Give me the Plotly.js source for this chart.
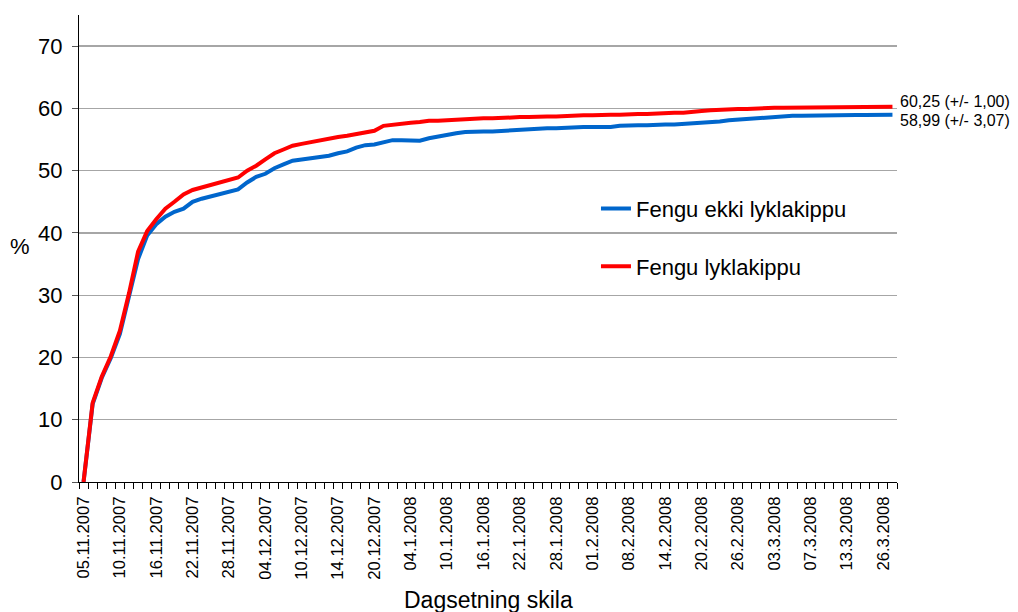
<!DOCTYPE html>
<html>
<head>
<meta charset="utf-8">
<script src="https://cdn.plot.ly/plotly-3.0.1.min.js"></script>
<style>html,body{margin:0;padding:0;background:#fff;}#chart{width:1018px;height:612px;}</style>
</head>
<body>
<div id="chart"></div>
<script>
// Tick labels shown on the category axis (every 4th category)
const tickLabels = ["05.11.2007","10.11.2007","16.11.2007","22.11.2007","28.11.2007","04.12.2007",
  "10.12.2007","14.12.2007","20.12.2007","04.1.2008","10.1.2008","16.1.2008","22.1.2008",
  "28.1.2008","01.2.2008","08.2.2008","14.2.2008","20.2.2008","26.2.2008","03.3.2008",
  "07.3.2008","13.3.2008","26.3.2008"];
const labelStep = 4;

// Series values (%), one per category (90 categories)
const fenguEkki = [0,12.5,16.7,19.9,23.8,29.5,35.8,39.6,41.4,42.6,
  43.4,43.9,45.0,45.5,45.9,46.2,46.6,47.0,48.1,49.0,
  49.5,50.4,51.0,51.6,51.8,52.0,52.2,52.4,52.8,53.1,
  53.7,54.1,54.2,54.6,54.9,54.9,54.9,54.8,55.2,55.5,
  55.8,56.0,56.2,56.3,56.3,56.3,56.4,56.4,56.6,56.7,
  56.8,56.8,56.8,56.9,56.9,57.0,57.0,57.0,57.0,57.2,
  57.3,57.3,57.3,57.4,57.4,57.4,57.5,57.5,57.6,57.7,
  57.9,58.1,58.2,58.3,58.5,58.6,58.7,58.7,58.8,58.8,
  58.85,58.85,58.9,58.9,58.9,58.95,58.95,58.99,58.99,58.99];
const fengu = [0,12.7,16.9,20.2,24.3,30.3,37.0,40.3,42.2,43.9,
  45.0,46.2,46.9,47.3,47.7,48.0,48.4,48.9,50.0,50.8,
  51.8,52.8,53.4,54.0,54.3,54.6,54.8,55.1,55.4,55.6,
  55.9,56.2,56.4,57.2,57.4,57.5,57.7,57.8,58.0,58.0,
  58.1,58.2,58.3,58.3,58.4,58.4,58.5,58.5,58.6,58.6,
  58.7,58.7,58.7,58.8,58.8,58.9,58.9,59.0,59.0,59.0,
  59.1,59.1,59.1,59.2,59.2,59.3,59.3,59.5,59.6,59.7,
  59.8,59.8,59.9,59.9,60.0,60.0,60.1,60.1,60.1,60.15,
  60.15,60.2,60.2,60.2,60.2,60.25,60.25,60.25,60.25,60.25];

const seriesNames = ["Fengu ekki lyklakippu","Fengu lyklakippu"];
const endLabels = ["60,25 (+/- 1,00)","58,99 (+/- 3,07)"];

const n = fengu.length;
const xIdx = Array.from({length:n},(_,i)=>i);
const tickVals = tickLabels.map((_,k)=>k*labelStep);

const FONT = "Liberation Sans, Arial, sans-serif";

const traces = [
  {x:xIdx, y:fenguEkki, type:"scatter", mode:"lines", name:seriesNames[0], legendgroup:"a",
   line:{color:"#0066CC", width:4}},
  {x:xIdx, y:fengu, type:"scatter", mode:"lines", name:seriesNames[1], legendgroup:"b",
   line:{color:"#FF0000", width:4}}
];

const layout = {
  width:1018, height:612,
  margin:{l:79, r:121, t:15, b:130},
  paper_bgcolor:"#fff", plot_bgcolor:"#fff",
  font:{family:FONT, color:"#000"},
  showlegend:true,
  legend:{x:0.632, xanchor:"left", y:0.63, yanchor:"top", bgcolor:"rgba(0,0,0,0)",
    font:{size:22, family:FONT, color:"#000"}, traceorder:"grouped", tracegroupgap:26},
  xaxis:{range:[-0.5, n-0.5], tickmode:"array", tickvals:tickVals, ticktext:tickLabels,
    tickangle:-90, tickfont:{size:16.6, family:FONT, color:"#000"}, ticks:"", ticklabelstandoff:7,
    showgrid:false, showline:true, linecolor:"#000", linewidth:1, zeroline:false,
    minor:{tickmode:"linear", tick0:-0.5, dtick:1, ticks:"outside", ticklen:6, tickcolor:"#000", showgrid:false}},
  yaxis:{range:[0,75], tickvals:[0,10,20,30,40,50,60,70], ticks:"outside", ticklen:6, tickcolor:"#555",
    ticklabelstandoff:5,
    tickfont:{size:22, family:FONT, color:"#000"}, showgrid:true, gridcolor:"#A6A6A6", gridwidth:1.3,
    showline:true, linecolor:"#000", linewidth:1, zeroline:false},
  shapes:[{type:"rect", xref:"paper", yref:"paper", x0:0.5795, x1:1, y0:0.42, y1:0.6,
    fillcolor:"#fff", line:{width:0}, layer:"between"}],
  annotations:[
    {text:"%", xref:"paper", yref:"paper", x:0, y:0.5, xshift:-59, yshift:2, xanchor:"center", yanchor:"middle",
     showarrow:false, font:{size:22, family:FONT}},
    {text:"Dagsetning skila", xref:"paper", yref:"paper", x:0.5, y:0, yshift:-118, xanchor:"center", yanchor:"middle",
     showarrow:false, font:{size:23, family:FONT}},
    {text:endLabels[0], xref:"paper", yref:"y", x:1, y:61.1, xshift:1, xanchor:"left", yanchor:"middle",
     showarrow:false, font:{size:16, family:FONT}},
    {text:endLabels[1], xref:"paper", yref:"y", x:1, y:58.0, xshift:1, xanchor:"left", yanchor:"middle",
     showarrow:false, font:{size:16, family:FONT}}
  ]
};

Plotly.newPlot("chart", traces, layout, {staticPlot:true, displayModeBar:false});
</script>
</body>
</html>
